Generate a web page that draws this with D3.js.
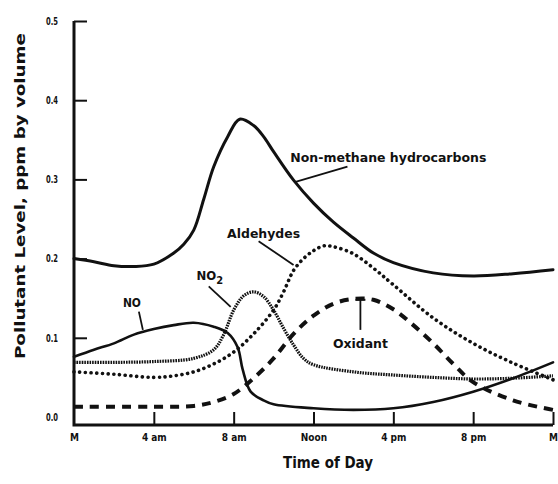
<!DOCTYPE html>
<html lang="en">
<head>
    <meta charset="UTF-8">
    <script src="https://d3js.org/d3.v7.min.js"></script>
    <title>Pollutant levels by time of day</title>
    <style>
        body { margin: 0; background: #fff; }
        svg text { font-family: "Liberation Sans Narrow", "DejaVu Sans Condensed", "Liberation Sans", sans-serif; font-weight: bold; fill: #111; }
    </style>
</head>
<body>
    <div id="graph-div"></div>
    <script>
        // hours since midnight, ppm by volume
        const hydrocarbons = [[0,0.2],[1,0.196],[2,0.191],[3,0.19],[4,0.193],[5,0.207],[5.5,0.218],[6,0.236],[6.5,0.275],[7,0.316],[7.7,0.354],[8.3,0.376],[9,0.368],[9.5,0.354],[10,0.335],[11,0.299],[12,0.27],[13,0.246],[14,0.226],[15,0.207],[16,0.195],[18,0.182],[20,0.178],[22,0.181],[24,0.186]];
        const no = [[0,0.076],[1,0.085],[2,0.093],[3,0.104],[4,0.111],[5,0.116],[6,0.119],[7,0.114],[7.7,0.106],[8.2,0.088],[8.45,0.06],[8.85,0.032],[9.5,0.021],[10,0.016],[12,0.011],[14,0.009],[16,0.011],[18,0.019],[20,0.032],[22,0.049],[24,0.069]];
        const no2 = [[0,0.069],[2,0.069],[4,0.07],[6,0.074],[7,0.085],[7.5,0.104],[8,0.135],[8.5,0.153],[9,0.158],[9.5,0.152],[10,0.135],[10.5,0.112],[11,0.091],[11.5,0.074],[12,0.066],[14,0.057],[16,0.053],[18,0.05],[20,0.048],[22,0.049],[24,0.052]];
        const aldehydes = [[0,0.057],[2,0.054],[4,0.05],[5,0.052],[6,0.057],[7,0.067],[8,0.082],[9,0.105],[10,0.135],[10.5,0.158],[11,0.185],[11.5,0.2],[12,0.21],[12.5,0.216],[13,0.215],[14,0.206],[15,0.188],[16,0.167],[18,0.125],[20,0.093],[22,0.068],[24,0.047]];
        const oxidant = [[0,0.013],[4,0.013],[6,0.014],[7,0.019],[8,0.029],[9,0.049],[10,0.074],[11,0.105],[12,0.128],[13,0.143],[14,0.149],[15,0.148],[16,0.136],[17,0.116],[18,0.093],[19,0.067],[20,0.044],[22,0.021],[24,0.009]];

        const xTicks = [0, 4, 8, 12, 16, 20, 24];
        const xTickLabels = ['M', '4 am', '8 am', 'Noon', '4 pm', '8 pm', 'M'];
        const yTicks = [0, 0.1, 0.2, 0.3, 0.4, 0.5];

        // label text, label anchor [h, v], leader from [h, v] to [h, v]
        const labelNames = ['Non-methane hydrocarbons', 'Aldehydes', 'NO', 'Oxidant'];
        const labelAt = [[15.75, 0.322], [9.5, 0.226], [2.9, 0.139], [14.35, 0.087]];
        const labelLen = [196, 73, 18, 55];
        const leaders = [[[13.7, 0.316], [11.1, 0.297]], [[9.25, 0.222], [11, 0.192]], [[3.25, 0.133], [3.45, 0.11]], [[14.35, 0.11], [14.35, 0.148]]];

        const w = 558, h = 484;
        const x = d3.scaleLinear().domain([0, 24]).range([74, 553]);
        const y = d3.scaleLinear().domain([0, 0.5]).range([417, 21]);
        const axisY = 425;

        const svg = d3.select('#graph-div').append('svg')
            .attr('width', w).attr('height', h);

        //axes
        const yAxis = d3.axisLeft(y).tickValues(yTicks).tickSizeInner(-13).tickSizeOuter(0)
            .tickFormat(d3.format('.1f'));
        const gy = svg.append('g').attr('transform', 'translate(' + x(0) + ',0)').call(yAxis);
        gy.select('.domain').remove();
        gy.selectAll('.tick line').attr('stroke', '#111').attr('stroke-width', 2);
        gy.selectAll('.tick').filter(d => d === 0).select('line').remove();
        gy.selectAll('.tick text').attr('x', -16).attr('textLength', 12)
            .attr('lengthAdjust', 'spacingAndGlyphs').style('font-size', '10px');

        const xAxis = d3.axisBottom(x).tickValues(xTicks).tickSizeInner(-13).tickSizeOuter(0)
            .tickFormat((d, i) => xTickLabels[i]);
        const gx = svg.append('g').attr('transform', 'translate(0,' + axisY + ')').call(xAxis);
        gx.select('.domain').remove();
        gx.selectAll('.tick line').attr('stroke', '#111').attr('stroke-width', 2);
        gx.selectAll('.tick').filter(d => d === 0).select('line').remove();
        gx.selectAll('.tick text').attr('y', 9).style('font-size', '10px');

        svg.append('path')
            .attr('d', 'M' + x(0) + ',' + y(0.5) + 'V' + axisY + 'H' + x(24))
            .attr('fill', 'none').attr('stroke', '#111').attr('stroke-width', 3);

        svg.append('text').text('Time of Day')
            .attr('x', 328).attr('y', 468).attr('text-anchor', 'middle')
            .attr('textLength', 90).attr('lengthAdjust', 'spacingAndGlyphs')
            .style('font-size', '15px');
        svg.append('text').text('Pollutant Level, ppm by volume')
            .attr('transform', 'translate(25,196) rotate(-90)').attr('text-anchor', 'middle')
            .attr('textLength', 326).attr('lengthAdjust', 'spacingAndGlyphs')
            .style('font-size', '14px');

        //curves
        const line = d3.line().x(d => x(d[0])).y(d => y(d[1])).curve(d3.curveCatmullRom.alpha(0.5));
        const series = [
            { data: hydrocarbons, width: 3, dash: null, cap: 'round' },
            { data: no, width: 2.6, dash: null, cap: 'round' },
            { data: no2, width: 3.2, dash: '1.6,1', cap: 'butt' },
            { data: aldehydes, width: 3.6, dash: '0.1,5.6', cap: 'round' },
            { data: oxidant, width: 4, dash: '9,7', cap: 'butt' }
        ];
        svg.selectAll('path.series').data(series).enter().append('path')
            .attr('class', 'series')
            .attr('d', d => line(d.data))
            .attr('fill', 'none').attr('stroke', '#111')
            .attr('stroke-width', d => d.width)
            .attr('stroke-dasharray', d => d.dash)
            .attr('stroke-linecap', d => d.cap);

        //labels
        svg.selectAll('text.lbl').data(labelNames).enter().append('text')
            .attr('class', 'lbl')
            .text(d => d)
            .attr('x', (d, i) => x(labelAt[i][0]))
            .attr('y', (d, i) => y(labelAt[i][1]))
            .attr('text-anchor', 'middle')
            .attr('textLength', (d, i) => labelLen[i])
            .attr('lengthAdjust', 'spacingAndGlyphs')
            .style('font-size', '13px');
        svg.selectAll('line.leader').data(leaders).enter().append('line')
            .attr('class', 'leader')
            .attr('x1', d => x(d[0][0])).attr('y1', d => y(d[0][1]))
            .attr('x2', d => x(d[1][0])).attr('y2', d => y(d[1][1]))
            .attr('stroke', '#111').attr('stroke-width', 1.8);
        // T cap on the oxidant leader
        svg.append('line')
            .attr('x1', x(14.35) - 5).attr('x2', x(14.35) + 5)
            .attr('y1', y(0.148)).attr('y2', y(0.148))
            .attr('stroke', '#111').attr('stroke-width', 2);

        const no2Label = svg.append('text')
            .attr('x', x(6.8)).attr('y', y(0.173))
            .attr('text-anchor', 'middle').style('font-size', '13px');
        no2Label.append('tspan').text('NO');
        no2Label.append('tspan').text('2').attr('dy', 4).style('font-size', '11px');
        svg.append('line')
            .attr('x1', x(6.75)).attr('y1', y(0.165))
            .attr('x2', x(7.85)).attr('y2', y(0.139))
            .attr('stroke', '#111').attr('stroke-width', 1.8);
    </script>
</body>
</html>
